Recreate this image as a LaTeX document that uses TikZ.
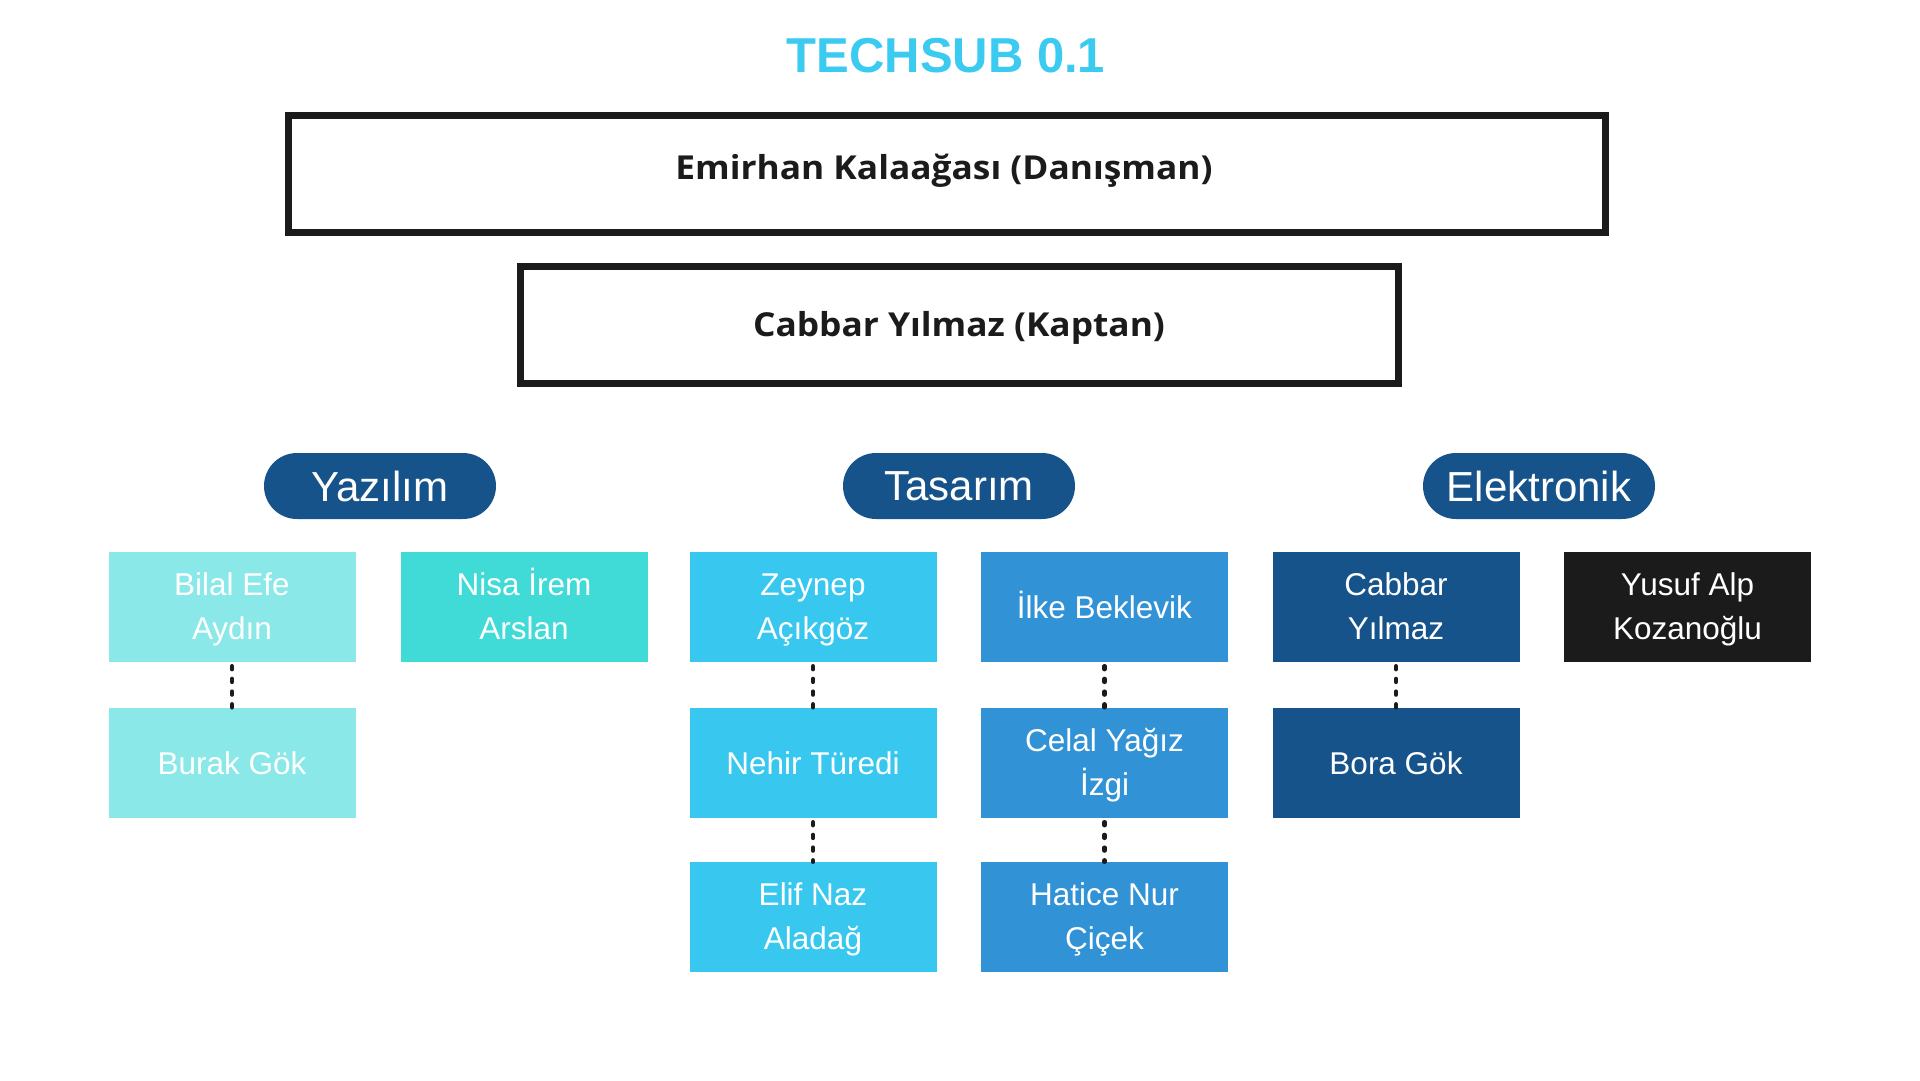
\documentclass[tikz,border=0pt]{standalone}
\usepackage{fontspec}
\setmainfont{Liberation Sans}
\newfontfamily\headf{Open Sans}[FakeStretch=1.07]
\definecolor{cA}{HTML}{8AE9E8}
\definecolor{cB}{HTML}{40DAD7}
\definecolor{cC}{HTML}{38C8EF}
\definecolor{cD}{HTML}{3192D6}
\definecolor{cE}{HTML}{16538A}
\definecolor{cF}{HTML}{1B1B1B}
\definecolor{ttl}{HTML}{3BCBF1}
\definecolor{ink}{HTML}{1B1B1B}
\tikzset{
  member/.style={fill=#1, minimum width=247, minimum height=110, inner sep=0pt},
  mtext/.style={anchor=base, inner sep=0pt, text=white, font=\fontsize{31.5}{44}\selectfont},
  pill/.style={fill=cE, minimum width=232, minimum height=66, inner sep=0pt,
    rounded corners=33, text=white, font=\fontsize{42}{46}\selectfont},
  bigbox/.style={draw=ink, line width=6.7, inner sep=0pt},
  bigtext/.style={anchor=base, inner sep=0pt, text=ink, font=\headf\bfseries\fontsize{33}{38}\selectfont},
  dotline/.style={draw=ink, line width=4.4, line cap=round, dash pattern=on 3 off 9.7, dash phase=8.7}
}
\newcommand\mone[5]{%
  \node[member=#2] (#1) at (#3,#4) {};
  \node[mtext] (#1-a) at ([yshift=-11.3]#1.center) {#5};}
\newcommand\mtwo[6]{%
  \node[member=#2] (#1) at (#3,#4) {};
  \node[mtext] (#1-a) at ([yshift=11.3]#1.center) {#5};
  \node[mtext] (#1-b) at ([yshift=-32.2]#1.center) {#6};}
\begin{document}
\begin{tikzpicture}[x=1pt,y=-1pt]
\useasboundingbox[fill=white] (0,0) rectangle (1920,1080);
% title
\node[anchor=base, text=ttl, inner sep=0pt, font=\bfseries\fontsize{49}{52}\selectfont] (title) at (946,72) {TECHSUB 0.1};
% big boxes
\node[bigbox, minimum width=1317.3, minimum height=117.3] (adv) at (947,174) {};
\node[bigtext] (advt) at (944,179) {Emirhan Kalaağası (Danışman)};
\node[bigbox, minimum width=878.3, minimum height=116.7] (cap) at (959.5,325) {};
\node[bigtext] (capt) at (959,336) {Cabbar Yılmaz (Kaptan)};
% departments
\node[pill] (yaz) at (380,486) {Yazılım};
\node[pill] (tas) at (959,486) {Tasarım};
\node[pill] (ele) at (1539,486) {Elektronik};
% members
\mtwo{bilal}{cA}{232}{607}{Bilal Efe}{Aydın}
\mone{burak}{cA}{232}{763}{Burak Gök}
\mtwo{nisa}{cB}{524}{607}{Nisa İrem}{Arslan}
\mtwo{zeynep}{cC}{813}{607}{Zeynep}{Açıkgöz}
\mone{nehir}{cC}{813}{763}{Nehir Türedi}
\mtwo{elif}{cC}{813}{917}{Elif Naz}{Aladağ}
\mone{ilke}{cD}{1104.5}{607}{İlke Beklevik}
\mtwo{celal}{cD}{1104.5}{763}{Celal Yağız}{İzgi}
\mtwo{hatice}{cD}{1104.5}{917}{Hatice Nur}{Çiçek}
\mtwo{cabbar}{cE}{1396}{607}{Cabbar}{Yılmaz}
\mone{bora}{cE}{1396}{763}{Bora Gök}
\mtwo{yusuf}{cF}{1687.5}{607}{Yusuf Alp}{Kozanoğlu}
% connectors
\draw[dotline] (bilal.south) -- (burak.north);
\draw[dotline] (zeynep.south) -- (nehir.north);
\draw[dotline] (nehir.south) -- (elif.north);
\draw[dotline] (ilke.south) -- (celal.north);
\draw[dotline] (celal.south) -- (hatice.north);
\draw[dotline] (cabbar.south) -- (bora.north);
\end{tikzpicture}
\end{document}
